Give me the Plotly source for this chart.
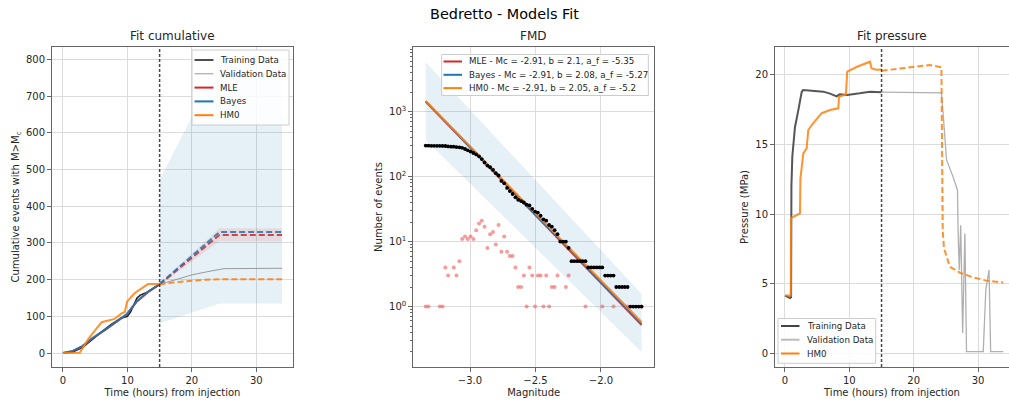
import plotly.graph_objects as go

# ---------------- data ----------------
train_end = 15  # hours; end of training window

# Fit cumulative (left panel)
cum_train_t = [0, 1.5, 3, 4.5, 6, 7.5, 9, 10, 10.5, 11.5, 12, 13, 14, 15]
cum_train_v = [0, 3, 15, 37, 58, 78, 95, 100, 112, 150, 158, 165, 176, 187]
cum_valid_t = [15, 17, 20, 22.5, 25, 34]
cum_valid_v = [187, 198, 213, 222, 230, 231]
fit_t = [0, 1.5, 3, 4.5, 6.5, 8.3, 9.9, 11.4, 13.2, 15]
mle_fit_v = [0, 5, 18, 39, 62, 84, 105, 139, 166, 187]
bayes_fit_v = [0, 6, 19, 40, 63, 85, 106, 140, 167, 188]
hm0_fit_t = [0, 2.6, 4.0, 6.0, 8.0, 9.1, 9.6, 9.95, 11.1, 13.2, 15]
hm0_fit_v = [0, 1, 40, 84, 93, 108, 112, 140, 163, 188, 188]
fc_t = [15, 24.3, 34]
mle_fc_v = [187, 322, 322]
bayes_fc_v = [188, 330, 330]
hm0_fc_t = [15, 17, 20, 22, 24.3, 34]
hm0_fc_v = [187, 192, 197, 200, 201, 201]
bayes_band_hi = [472, 790, 790]
bayes_band_lo = [81, 135, 135]
mle_band_hi = [191, 340, 340]
mle_band_lo = [184, 305, 305]

# FMD (middle panel)
mags = [-3.338, -3.317, -3.295, -3.274, -3.252, -3.231, -3.210, -3.188, -3.167, -3.145,
        -3.124, -3.103, -3.081, -3.060, -3.038, -3.017, -2.996, -2.974, -2.953, -2.931,
        -2.910, -2.889, -2.867, -2.846, -2.824, -2.803, -2.782, -2.760, -2.739, -2.717,
        -2.696, -2.675, -2.653, -2.632, -2.610, -2.589, -2.568, -2.546, -2.525, -2.503,
        -2.482, -2.461, -2.439, -2.418, -2.396, -2.375, -2.354, -2.332, -2.311, -2.289,
        -2.268, -2.247, -2.225, -2.204, -2.182, -2.161, -2.140, -2.118, -2.097, -2.075,
        -2.054, -2.033, -2.011, -1.990, -1.968, -1.947, -1.926, -1.904, -1.883, -1.861,
        -1.840, -1.819, -1.797, -1.776, -1.754, -1.733, -1.712, -1.690]
cum_counts = [300, 299, 298, 298, 298, 298, 297, 296, 292, 289,
              289, 285, 282, 277, 266, 254, 243, 231, 220, 205,
              186, 165, 148, 140, 127, 113, 104, 86, 79, 67,
              60, 54, 48, 44, 42, 40, 37, 36, 32, 29,
              28, 25, 22, 21, 18, 17, 15, 13, 10, 10,
              10, 8, 5, 5, 5, 5, 5, 5, 4, 4,
              4, 4, 4, 4, 3, 3, 3, 3, 2, 2,
              2, 2, 2, 1, 1, 1, 1, 1]
bin_counts = [1, 1, None, None, None, 1, 1, 4, 3, None,
              4, 3, 5, 11, 12, 11, 12, 11, 15, 19,
              21, 17, 8, 13, 14, 9, 18, 7, 12, 7,
              6, 6, 4, 2, 2, 3, 1, 4, 3, 1,
              3, 3, 1, 3, 1, 2, 2, 3, None, None,
              2, 3, None, None, None, None, None, 1, None, None,
              None, None, None, 1, None, None, None, 1, None, None,
              None, None, 1, None, None, None, None, 1]
gr_mags = [-3.338, -1.690]
mle_gr = [1420, 0.52]
bayes_gr = [1440, 0.54]
hm0_gr = [1460, 0.58]
gr_band_hi = [5750, 1.57]
gr_band_lo = [367, 0.2]
fmd_labels = ["MLE - Mc = -2.91, b = 2.1, a_f = -5.35",
              "Bayes - Mc = -2.91, b = 2.08, a_f = -5.27",
              "HM0 - Mc = -2.91, b = 2.05, a_f = -5.2"]

# Fit pressure (right panel)
p_train_t = [0, 0.8, 0.95, 1.0, 1.14, 1.55, 2.07, 2.59, 2.8, 3.9, 5.95, 7.0, 8.03, 8.5,
             9.67, 11.6, 13.2, 15]
p_train_v = [4.17, 4.0, 4.05, 12.0, 14.1, 16.2, 17.4, 18.7, 18.85, 18.8, 18.74, 18.6, 18.4,
             18.55, 18.5, 18.62, 18.74, 18.7]
p_valid_t = [15, 24.3, 24.6, 25.1, 26.1, 26.8, 26.9, 27.07, 27.3, 27.6, 27.95, 28.2, 30.8,
             31.2, 31.7, 31.95, 33.9]
p_valid_v = [18.7, 18.65, 16.95, 13.86, 12.67, 11.7, 8.6, 6.0, 9.2, 1.5, 8.6, 0.17, 0.17,
             4.6, 6.0, 0.17, 0.17]
p_hm0_t = [0, 0.9, 0.93, 2.33, 2.4, 2.85, 3.37, 3.62, 4.4, 5.7, 7.0, 8.28, 8.39, 9.47, 9.67,
           11.1, 13.2, 13.46, 14.2, 15]
p_hm0_v = [4.17, 4.17, 9.7, 10.05, 12.55, 14.33, 14.7, 16.0, 16.5, 17.2, 17.43, 17.55, 18.38,
           18.55, 20.17, 20.5, 20.88, 20.4, 20.3, 20.33]
p_hm0_fc_t = [15, 22.5, 24.3, 24.45, 24.5, 24.7, 25.6, 27.2, 29.2, 31.3, 33.9]
p_hm0_fc_v = [20.24, 20.64, 20.48, 10.0, 8.86, 7.55, 6.24, 5.8, 5.48, 5.24, 5.1]

# ---------------- styling ----------------
W, H = 1009, 401
FONT = "DejaVu Sans"
RED, BLUE, ORANGE = "#d62728", "#1f77b4", "#ff7f0e"
TXT = "#262626"
DASH = "6px,3px"


def px(x):
    return x / W


def py(y):
    return 1 - y / H


ydom = [py(367), py(47)]
dom1 = [px(52), px(293)]
dom2 = [px(413.3), px(654)]
dom3 = [px(775), 1.0]

fig = go.Figure()


def line(x, y, color, width, xa, ya, dash="solid", opacity=1.0):
    fig.add_trace(go.Scatter(x=x, y=y, mode="lines", xaxis=xa, yaxis=ya,
                             line=dict(color=color, width=width, dash=dash),
                             opacity=opacity, showlegend=False, hoverinfo="skip"))


def band(x, hi, lo, color, xa, ya):
    fig.add_trace(go.Scatter(x=list(x) + list(x)[::-1], y=list(hi) + list(lo)[::-1],
                             mode="lines", fill="toself", fillcolor=color,
                             line=dict(width=0), xaxis=xa, yaxis=ya,
                             showlegend=False, hoverinfo="skip"))


# ---- left panel ----
band(fc_t, bayes_band_hi, bayes_band_lo, "rgba(31,119,180,0.11)", "x", "y")
band(fc_t, mle_band_hi, mle_band_lo, "rgba(214,39,40,0.10)", "x", "y")
line(cum_train_t, cum_train_v, "#222222", 1.6, "x", "y")
line(cum_valid_t, cum_valid_v, "#9a9a9a", 1.0, "x", "y")
line(fit_t, mle_fit_v, RED, 2, "x", "y", opacity=0.85)
line(fc_t, mle_fc_v, RED, 2, "x", "y", dash=DASH, opacity=0.85)
line(fit_t, bayes_fit_v, BLUE, 2, "x", "y", opacity=0.85)
line(fc_t, bayes_fc_v, BLUE, 2, "x", "y", dash=DASH, opacity=0.85)
line(hm0_fit_t, hm0_fit_v, ORANGE, 2, "x", "y", opacity=0.85)
line(hm0_fc_t, hm0_fc_v, ORANGE, 2, "x", "y", dash=DASH, opacity=0.85)

# ---- middle panel ----
band(gr_mags, gr_band_hi, gr_band_lo, "rgba(31,119,180,0.11)", "x2", "y2")
line(gr_mags, mle_gr, RED, 2, "x2", "y2", opacity=0.85)
line(gr_mags, bayes_gr, BLUE, 2, "x2", "y2", opacity=0.85)
line(gr_mags, hm0_gr, ORANGE, 2, "x2", "y2", opacity=0.85)
fig.add_trace(go.Scatter(x=mags, y=bin_counts, mode="markers", xaxis="x2", yaxis="y2",
                         marker=dict(color="rgba(240,90,90,0.6)", size=4),
                         showlegend=False, hoverinfo="skip"))
fig.add_trace(go.Scatter(x=mags, y=cum_counts, mode="markers", xaxis="x2", yaxis="y2",
                         marker=dict(color="black", size=3.8),
                         showlegend=False, hoverinfo="skip"))

# ---- right panel ----
line(p_train_t, p_train_v, "#444444", 2, "x3", "y3", opacity=0.9)
line(p_valid_t, p_valid_v, "#b0b0b0", 1.3, "x3", "y3")
line(p_hm0_t, p_hm0_v, ORANGE, 2, "x3", "y3", opacity=0.85)
line(p_hm0_fc_t, p_hm0_fc_v, ORANGE, 2, "x3", "y3", dash=DASH, opacity=0.85)

# training-end markers
for xa, ya in (("x", "y"), ("x3", "y3")):
    fig.add_shape(type="line", xref=xa, yref=ya + " domain", x0=train_end, x1=train_end,
                  y0=0, y1=1, line=dict(color="rgba(40,40,40,0.85)", width=1.5, dash="3px,2px"))

# ---- axes ----
tickfont = dict(family=FONT, size=10, color=TXT)
common = dict(showline=True, mirror=True, linecolor="#666", linewidth=1, showgrid=True,
              gridcolor="#dcdcdc", gridwidth=1, zeroline=False, ticks="outside", ticklen=4,
              tickcolor="#666", tickfont=tickfont, automargin=False)
tfont = dict(family=FONT, size=10, color=TXT)

fig.update_layout(
    xaxis=dict(domain=dom1, anchor="y", range=[-1.7, 35.7], tickvals=[0, 10, 20, 30],
               title=dict(text="Time (hours) from injection", font=tfont, standoff=3), **common),
    yaxis=dict(domain=ydom, anchor="x", range=[-38, 834], tickvals=list(range(0, 900, 100)),
               title=dict(text="Cumulative events with M&gt;M<sub>c</sub>", font=tfont, standoff=4),
               **common),
    xaxis2=dict(domain=dom2, anchor="y2", range=[-3.433, -1.595], tickvals=[-3.0, -2.5, -2.0],
                ticktext=["\u22123.0", "\u22122.5", "\u22122.0"],
                title=dict(text="Magnitude", font=tfont, standoff=3), **common),
    yaxis2=dict(domain=ydom, anchor="x2", type="log", range=[-0.93, 3.995],
                tickvals=[1, 10, 100, 1000],
                ticktext=["10<sup>0</sup>", "10<sup>1</sup>", "10<sup>2</sup>", "10<sup>3</sup>"],
                minor=dict(ticks="outside", ticklen=2, tickcolor="#666", showgrid=False,
                           tickvals=[k * 10 ** d for d in range(-1, 4) for k in range(2, 10)]),
                title=dict(text="Number of events", font=tfont, standoff=4), **common),
    xaxis3=dict(domain=dom3, anchor="y3", range=[-1.55, 34.8], tickvals=[0, 10, 20, 30],
                title=dict(text="Time (hours) from injection", font=tfont, standoff=3), **common),
    yaxis3=dict(domain=ydom, anchor="x3", range=[-0.93, 21.93], tickvals=[0, 5, 10, 15, 20],
                title=dict(text="Pressure (MPa)", font=tfont, standoff=4), **common),
)

# ---- titles ----
ann = []
for dom, t in ((dom1, "Fit cumulative"), (dom2, "FMD"), (dom3, "Fit pressure")):
    ann.append(dict(text=t, x=(dom[0] + dom[1]) / 2, y=ydom[1], xref="paper", yref="paper",
                    xanchor="center", yanchor="bottom", yshift=2, showarrow=False,
                    font=dict(family=FONT, size=12, color=TXT)))


# ---- legends (matplotlib-style boxes) ----
def legend(box, rows, lx0, lx1, tx, items):
    fig.add_shape(type="rect", xref="paper", yref="paper", x0=px(box[0]), x1=px(box[2]),
                  y0=py(box[3]), y1=py(box[1]), fillcolor="rgba(255,255,255,0.85)",
                  line=dict(color="#cccccc", width=1), layer="above")
    for (label, color, width), ry in zip(items, rows):
        fig.add_shape(type="line", xref="paper", yref="paper", x0=px(lx0), x1=px(lx1),
                      y0=py(ry), y1=py(ry), line=dict(color=color, width=width), layer="above")
        ann.append(dict(text=label, x=px(tx), y=py(ry), xref="paper", yref="paper",
                        xanchor="left", yanchor="middle", showarrow=False,
                        font=dict(family=FONT, size=8.7, color=TXT)))


legend((192, 50, 289, 125), [60, 73.8, 87.6, 101.4, 115.2], 194.5, 213.5, 217.5,
       [("Training Data", "#222222", 1.6), ("Validation Data", "#9a9a9a", 1),
        ("MLE", RED, 2), ("Bayes", BLUE, 2), ("HM0", ORANGE, 2)])
legend((441.7, 54.5, 648.3, 95.5), [61.5, 74.8, 88.1], 443.5, 462, 466.5,
       [(fmd_labels[0], RED, 2), (fmd_labels[1], BLUE, 2), (fmd_labels[2], ORANGE, 2)])
legend((778, 318.5, 875.7, 363.3), [326, 339.7, 353.5], 781, 799.5, 804.5,
       [("Training Data", "#444444", 2), ("Validation Data", "#bbbbbb", 2),
        ("HM0", ORANGE, 2)])

fig.update_layout(
    title=dict(text="Bedretto - Models Fit", x=0.5, xanchor="center", y=py(14),
               yanchor="middle", yref="container",
               font=dict(family=FONT, size=14.4, color="black")),
    annotations=ann, width=W, height=H, autosize=False,
    margin=dict(l=0, r=0, t=0, b=0), paper_bgcolor="white", plot_bgcolor="white",
    showlegend=False, font=dict(family=FONT, color=TXT))

fig.write_html("out.html")
